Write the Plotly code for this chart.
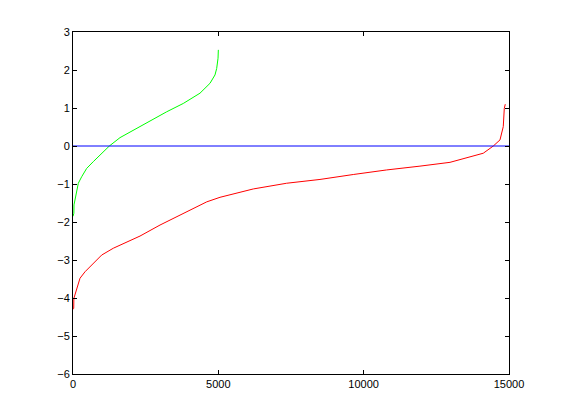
import plotly.graph_objects as go

# Green series (sorted values, ~5000 samples)
green_x = [0, 30, 34, 103, 183, 298, 470, 700, 986, 1250, 1617, 2075, 2649, 3222,
           3795, 4369, 4713, 4885, 4943, 4990, 5000]
green_y = [-1.85, -1.77, -1.55, -1.25, -0.98, -0.81, -0.59, -0.41, -0.19, 0.0, 0.22,
           0.42, 0.67, 0.90, 1.12, 1.39, 1.65, 1.87, 2.04, 2.31, 2.53]

# Red series (sorted values, ~14900 samples)
red_x = [0, 25, 30, 103, 150, 241, 413, 700, 986, 1387, 1961, 2305, 2993, 3795, 4600,
         5057, 6203, 7350, 8497, 9643, 10790, 11937, 12970, 14115, 14460, 14690,
         14803, 14838, 14872]
red_y = [-4.3, -4.27, -4.01, -3.83, -3.66, -3.48, -3.31, -3.09, -2.87, -2.69, -2.5,
         -2.37, -2.08, -1.77, -1.47, -1.35, -1.13, -0.98, -0.88, -0.75, -0.63, -0.53,
         -0.43, -0.19, 0.0, 0.16, 0.51, 0.99, 1.1]

# Blue reference line
blue_x = [0, 15000]
blue_y = [0, 0]

x_ticks = [0, 5000, 10000, 15000]
x_ticktext = ["0", "5000", "10000", "15000"]
y_ticks = [-6, -5, -4, -3, -2, -1, 0, 1, 2, 3]

fig = go.Figure()
fig.add_trace(go.Scatter(x=green_x, y=green_y, mode="lines",
                         line=dict(color="#00ff00", width=1), showlegend=False))
fig.add_trace(go.Scatter(x=red_x, y=red_y, mode="lines",
                         line=dict(color="#ff0000", width=1), showlegend=False))
fig.add_trace(go.Scatter(x=blue_x, y=blue_y, mode="lines",
                         line=dict(color="#0000ff", width=1), showlegend=False))

axis_common = dict(showline=True, linecolor="black", linewidth=1, mirror="ticks",
                   ticks="inside", ticklen=4, tickcolor="black", tickwidth=1,
                   showgrid=False, zeroline=False,
                   tickfont=dict(family="Liberation Sans, Arial, sans-serif", size=11, color="black"))

fig.update_layout(
    width=554, height=412,
    margin=dict(l=65, r=53, t=24, b=46),
    paper_bgcolor="white", plot_bgcolor="white",
    xaxis=dict(range=[0, 15000], tickvals=x_ticks, ticktext=x_ticktext, **axis_common),
    yaxis=dict(range=[-6, 3], tickvals=y_ticks, **axis_common),
)

fig.write_html("out.html")
